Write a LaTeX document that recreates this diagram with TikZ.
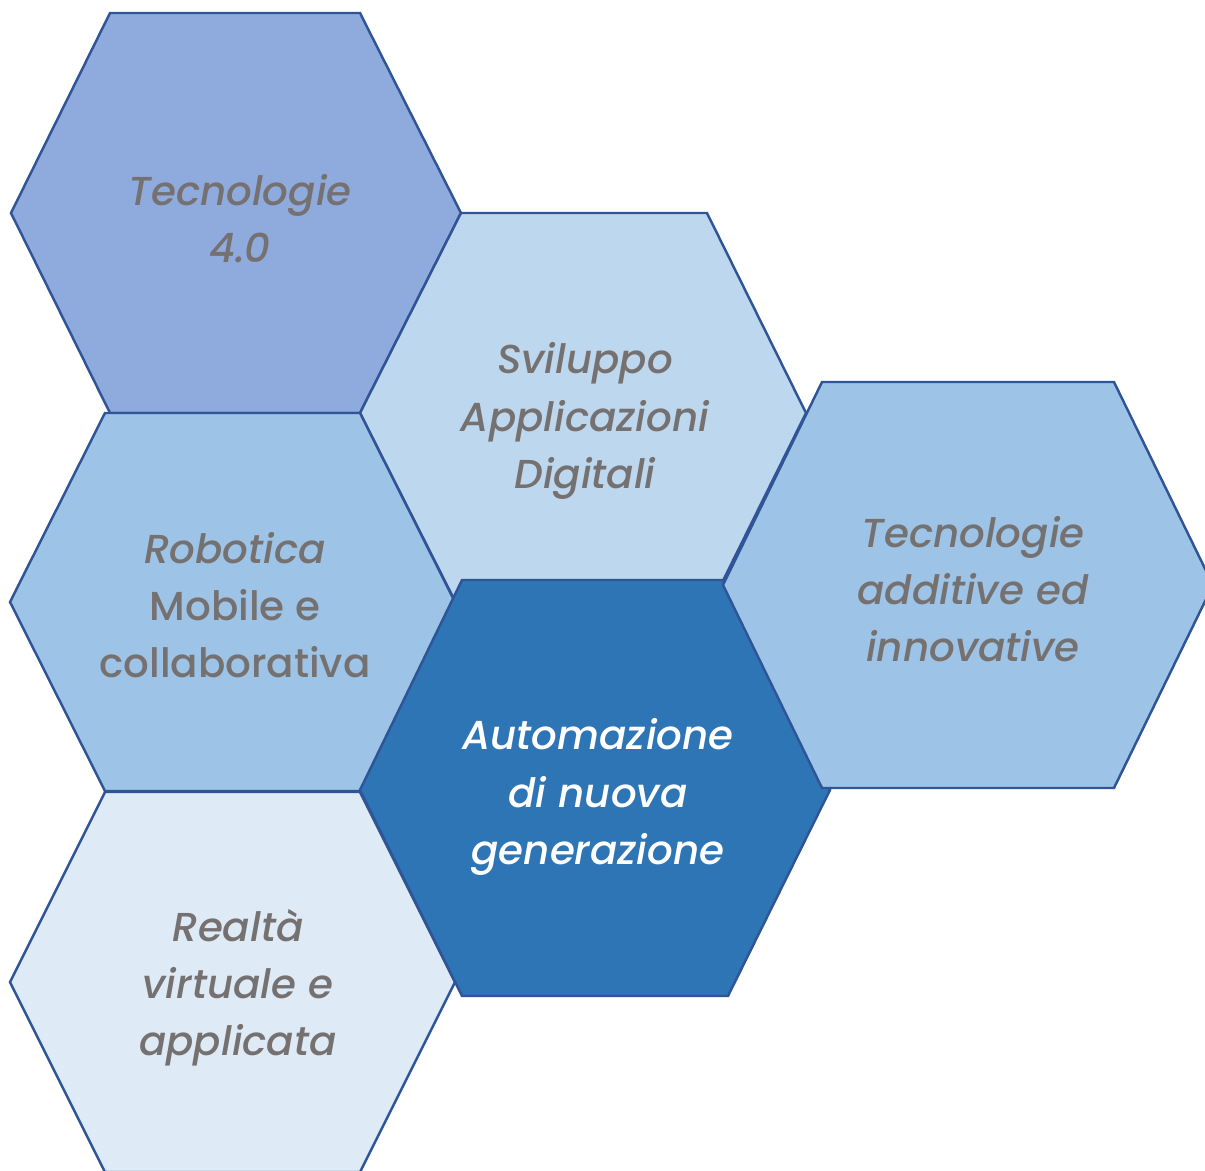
\documentclass[tikz,border=0pt]{standalone}
\usepackage{fontspec}
\setmainfont{Poppins}[UprightFont={* Medium}, ItalicFont={* Medium Italic}]
\definecolor{edge}{HTML}{2F5597}
\definecolor{hexA}{HTML}{8FAADC}
\definecolor{hexB}{HTML}{BDD7EE}
\definecolor{hexC}{HTML}{9DC3E6}
\definecolor{hexD}{HTML}{2E75B6}
\definecolor{hexE}{HTML}{DEEBF7}
\definecolor{txt}{HTML}{767171}

\begin{document}
\begin{tikzpicture}[x=0.02cm, y=-0.02cm,
    hexa/.style={draw=edge, line width=1.4pt, line join=miter},
    label/.style={align=center, text=txt, font=\fontsize{23}{32.5}\selectfont}]
  \useasboundingbox (0,0) rectangle (1205,1171);

  \draw[hexa, fill=hexA] (11,213) -- (110,13) -- (360,13) -- (461,213) -- (360,413) -- (110,413) -- cycle;
  \draw[hexa, fill=hexB] (360,413) -- (461,213) -- (707,213) -- (806,413) -- (707,613) -- (461,613) -- cycle;
  \draw[hexa, fill=hexC] (10,602) -- (105,413) -- (360,413) -- (455,602) -- (360,791) -- (105,791) -- cycle;
  \draw[hexa, fill=hexE] (10,982) -- (105,792) -- (360,792) -- (455,982) -- (360,1172) -- (105,1172) -- cycle;
  \draw[hexa, fill=hexD] (360,790) -- (462,580) -- (723,580) -- (830,790) -- (728,996) -- (462,996) -- cycle;
  \draw[hexa, fill=hexC] (723,585) -- (822,382) -- (1114,382) -- (1213,585) -- (1114,788) -- (822,788) -- cycle;

  \node[label] (t1) at (240,219) {\itshape Tecnologie\\\itshape 4.0};
  \node[label] (t2) at (585,421) {\itshape Sviluppo\\\itshape Applicazioni\\\itshape Digitali};
  \node[label] (t3) at (235,605) {\itshape Robotica\\Mobile e\\collaborativa};
  \node[label, text=white] (t4) at (598,797) {\itshape Automazione\\\itshape di nuova\\\itshape generazione};
  \node[label] (t5) at (973,589) {\itshape Tecnologie\\\itshape additive ed\\\itshape innovative};
  \node[label] (t6) at (238,988) {\itshape Realtà\\\itshape virtuale e\\\itshape applicata};
\end{tikzpicture}
\end{document}
